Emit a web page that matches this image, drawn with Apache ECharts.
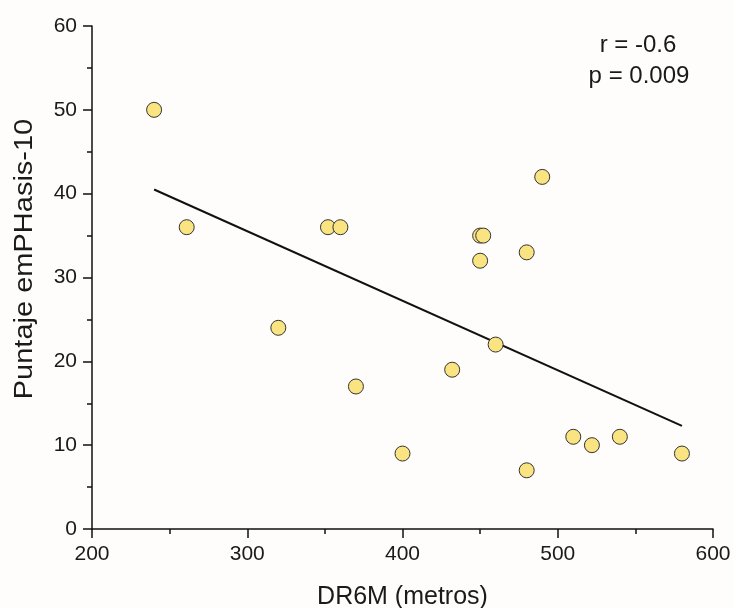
<!DOCTYPE html>
<html>
<head>
<meta charset="utf-8">
<script src="https://cdn.jsdelivr.net/npm/echarts@6/dist/echarts.min.js"></script>
<style>html,body{margin:0;padding:0;background:#fefdfb;overflow:hidden;}#c{width:733px;height:608px;}</style>
</head>
<body>
<div id="c"></div>
<script>
// Data
var distX = [240, 261, 320, 352, 360, 370, 400, 432, 450, 452, 450, 460, 480, 490, 480, 510, 522, 540, 580];
var scoreY = [50, 36, 24, 36, 36, 17, 9, 19, 35, 35, 32, 22, 33, 42, 7, 11, 10, 11, 9];
var trendX = [240, 580];
var trendY = [40.5, 12.3];
var xTicks = [200, 300, 400, 500, 600];
var yTicks = [0, 10, 20, 30, 40, 50, 60];
var xTitle = 'DR6M (metros)';
var yTitle = 'Puntaje emPHasis-10';
var statLines = ['r = -0.6', 'p = 0.009'];

var pts = distX.map(function (x, i) { return [x, scoreY[i]]; });
var trend = trendX.map(function (x, i) { return [x, trendY[i]]; });
var font = 'Arial, "Liberation Sans", sans-serif';

var chart = echarts.init(document.getElementById('c'), null, {renderer: 'canvas'});
chart.setOption({
  backgroundColor: '#fefdfb',
  animation: false,
  grid: {left: 92, right: 20, top: 26, bottom: 79, containLabel: false, outerBoundsMode: 'none'},
  xAxis: {
    type: 'value', min: xTicks[0], max: xTicks[xTicks.length - 1], interval: 100,
    name: xTitle, nameLocation: 'middle', nameGap: 56,
    nameTextStyle: {fontFamily: font, fontSize: 25, color: '#1a1a1a'},
    axisLine: {show: true, lineStyle: {color: '#111', width: 1.5}},
    axisTick: {show: true, inside: false, length: 9, lineStyle: {color: '#111', width: 1.5}},
    minorTick: {show: true, splitNumber: 2, length: 5, lineStyle: {color: '#111', width: 1.5}},
    axisLabel: {fontFamily: font, fontSize: 21, color: '#1a1a1a', margin: 15},
    splitLine: {show: false}
  },
  yAxis: {
    type: 'value', min: yTicks[0], max: yTicks[yTicks.length - 1], interval: 10,
    axisLine: {show: true, lineStyle: {color: '#111', width: 1.5}},
    axisTick: {show: true, inside: false, length: 9, lineStyle: {color: '#111', width: 1.5}},
    minorTick: {show: true, splitNumber: 2, length: 5, lineStyle: {color: '#111', width: 1.5}},
    axisLabel: {fontFamily: font, fontSize: 21, color: '#1a1a1a', margin: 15},
    splitLine: {show: false}
  },
  graphic: [
    {type: 'text', x: 25, y: 259, rotation: Math.PI / 2, scaleX: 1.16,
      style: {text: yTitle, font: '25px ' + font, fill: '#1a1a1a', textAlign: 'center', textVerticalAlign: 'middle'}},
    {type: 'text', x: 638, y: 45, style: {text: statLines[0], font: '24px ' + font, fill: '#1a1a1a', textAlign: 'center', textVerticalAlign: 'middle'}},
    {type: 'text', x: 639, y: 76, style: {text: statLines[1], font: '24px ' + font, fill: '#1a1a1a', textAlign: 'center', textVerticalAlign: 'middle'}}
  ],
  series: [
    {
      type: 'line', data: trend, symbol: 'none', z: 2,
      lineStyle: {color: '#111', width: 2}
    },
    {
      type: 'scatter', data: pts, symbol: 'circle', symbolSize: 15, z: 3,
      itemStyle: {color: '#fae481', borderColor: '#333', borderWidth: 1, opacity: 1}
    }
  ]
});
</script>
</body>
</html>
